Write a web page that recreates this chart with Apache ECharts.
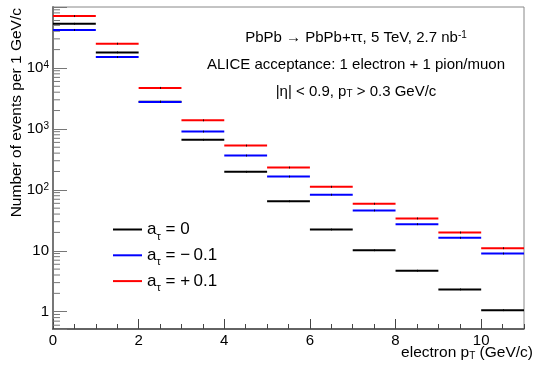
<!DOCTYPE html>
<html>
<head>
<meta charset="utf-8">
<script src="https://cdn.jsdelivr.net/npm/echarts@6/dist/echarts.min.js"></script>
<style>
  html, body { margin: 0; padding: 0; background: #fff; }
  #chart { width: 540px; height: 366px; }
</style>
</head>
<body>
<div id="chart"></div>
<script>
// bin edges of electron pT (GeV/c)
const binEdges = [0, 1, 2, 3, 4, 5, 6, 7, 8, 9, 10, 11];
// events per 1 GeV/c, one value per bin
const atau0 = [53000, 18000, 2800, 660, 197, 65, 22.3, 10.2, 4.7, 2.32, 1.06];
const atauMinus = [42000, 15100, 2760, 903, 365, 165, 83, 45.8, 27.3, 16.3, 9.0];
const atauPlus = [71000, 25000, 4700, 1380, 532, 232, 112, 59, 33.9, 19.9, 11.0];
const seriesNames = ['a0', 'aMinus', 'aPlus'];
const legendLabels = {
    a0: 'a{sub|\u03c4} = 0',
    aMinus: 'a{sub|\u03c4} = \u2212\u20090.1',
    aPlus: 'a{sub|\u03c4} = +\u20090.1'
};
const yMajorLabels = {0: '1', 1: '10', 2: '10{sup|2}', 3: '10{sup|3}', 4: '10{sup|4}'};

const FONT = 'Liberation Sans';
const AXIS_GREY = '#777';

// minor ticks 2..9 of each decade on the log axis
const yMinorTicks = [];
for (let d = -1; d <= 4; d++) {
    for (let k = 2; k <= 9; k++) {
        const v = k * Math.pow(10, d);
        if (v > 0.52 && v < 1e5) yMinorTicks.push(v);
    }
}

function binData(vals) {
    return vals.map((v, i) => [binEdges[i], binEdges[i + 1], v]);
}

function renderBins(params, api) {
    const p0 = api.coord([api.value(0), api.value(2)]);
    const p1 = api.coord([api.value(1), api.value(2)]);
    const mid = Math.round((p0[0] + p1[0]) / 2) + 0.5;
    return {
        type: 'group',
        children: [
            {type: 'line', shape: {x1: p0[0], y1: p0[1], x2: p1[0], y2: p1[1]},
                style: {stroke: api.visual('color'), lineWidth: 2}},
            {type: 'line', shape: {x1: mid, y1: p0[1] - 1, x2: mid, y2: p0[1] + 1},
                style: {stroke: '#000', lineWidth: 1, opacity: 0.8}}
        ]
    };
}

function renderMinorY(params, api) {
    const p = api.coord([0, api.value(1)]);
    return {type: 'line', shape: {x1: p[0], y1: p[1], x2: p[0] + 7, y2: p[1]},
        style: {stroke: AXIS_GREY, lineWidth: 1}};
}

function binSeries(name, vals, color) {
    return {
        name: name,
        type: 'custom',
        renderItem: renderBins,
        itemStyle: {color: color},
        encode: {x: [0, 1], y: 2},
        data: binData(vals),
        z: 3
    };
}

const chart = echarts.init(document.getElementById('chart'));

const option = {
    animation: false,
    textStyle: {fontFamily: FONT},
    grid: {left: 53, right: 16, top: 7, bottom: 37, show: true, borderColor: '#888', borderWidth: 1},
    xAxis: [
        {
            type: 'value', min: 0, max: 11, interval: 2,
            splitLine: {show: false},
            axisLine: {lineStyle: {color: '#444', width: 1.5}},
            axisTick: {inside: true, length: 10, lineStyle: {color: '#444'}},
            axisLabel: {color: '#000', fontSize: 15, fontFamily: FONT, margin: 4, showMaxLabel: false}
        },
        {
            // secondary ticks every 0.5
            type: 'value', min: 0, max: 11, interval: 0.5, position: 'bottom',
            splitLine: {show: false},
            axisLine: {show: false},
            axisTick: {inside: true, length: 5, lineStyle: {color: '#444'}},
            axisLabel: {show: false}
        }
    ],
    yAxis: {
        type: 'log', logBase: 10, min: 0.52, max: 1e5,
        splitLine: {show: false},
        axisLine: {lineStyle: {color: AXIS_GREY, width: 2}},
        axisTick: {inside: true, length: 14, lineStyle: {color: AXIS_GREY}},
        axisLabel: {
            color: '#000', fontSize: 15, fontFamily: FONT, margin: 4,
            formatter: function (v) {
                const e = Math.round(Math.log10(v));
                if (Math.abs(Math.log10(v) - e) > 1e-6) return '';
                return yMajorLabels[e] || '';
            },
            rich: {sup: {fontSize: 10, verticalAlign: 'top', lineHeight: 8, fontFamily: FONT, color: '#000'}}
        }
    },
    legend: {
        data: seriesNames,
        orient: 'vertical',
        left: 113, top: 217, padding: 0,
        icon: 'rect', itemWidth: 29, itemHeight: 2, itemGap: 0.8,
        formatter: n => legendLabels[n],
        textStyle: {
            fontSize: 17, fontFamily: FONT, color: '#000', lineHeight: 25,
            rich: {sub: {fontSize: 11, fontFamily: FONT, verticalAlign: 'bottom', lineHeight: 15, color: '#000'}}
        }
    },
    graphic: [
        {type: 'text', x: 356, y: 38, style: {
            text: 'PbPb \u2192 PbPb+\u03c4\u03c4, 5 TeV, 2.7 nb{sup|-1}',
            font: '15px "Liberation Sans"', fill: '#000', align: 'center', verticalAlign: 'middle',
            rich: {sup: {fontSize: 10, verticalAlign: 'top', lineHeight: 8, fontFamily: FONT}}}},
        {type: 'text', x: 356, y: 65, style: {
            text: 'ALICE acceptance: 1 electron + 1 pion/muon',
            font: '15px "Liberation Sans"', fill: '#000', align: 'center', verticalAlign: 'middle'}},
        {type: 'text', x: 356, y: 92, style: {
            text: '|\u03b7| < 0.9, p{sub|T} > 0.3 GeV/c',
            font: '15px "Liberation Sans"', fill: '#000', align: 'center', verticalAlign: 'middle',
            rich: {sub: {fontSize: 10, verticalAlign: 'bottom', lineHeight: 14, fontFamily: FONT}}}},
        {type: 'text', x: 533, y: 353, style: {
            text: 'electron p{sub|T} (GeV/c)',
            font: '15.5px "Liberation Sans"', fill: '#000', align: 'right', verticalAlign: 'middle',
            rich: {sub: {fontSize: 10, verticalAlign: 'bottom', lineHeight: 14, fontFamily: FONT}}}},
        {type: 'text', x: 17, y: 8, rotation: Math.PI / 2, style: {
            text: 'Number of events per 1 GeV/c',
            font: '15.5px "Liberation Sans"', fill: '#000', align: 'right', verticalAlign: 'middle'}}
    ],
    series: [
        binSeries('a0', atau0, '#000000'),
        binSeries('aMinus', atauMinus, '#0000ff'),
        binSeries('aPlus', atauPlus, '#ff0000'),
        {
            name: 'minorY', type: 'custom', renderItem: renderMinorY, silent: true,
            encode: {x: 0, y: 1},
            data: yMinorTicks.map(v => [0, v]),
            z: 2
        }
    ]
};

chart.setOption(option);
</script>
</body>
</html>
